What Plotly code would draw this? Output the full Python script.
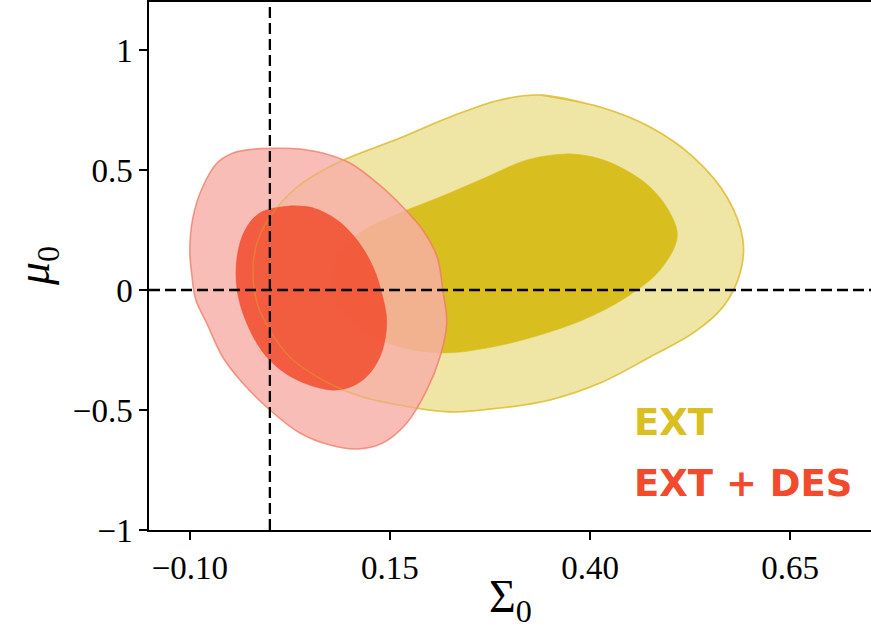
import plotly.graph_objects as go

# ---- data ----
# EXT: outer (95%) and inner (68%) contours in (Sigma0, mu0)
ext_outer_sigma = [0.3375, 0.4125, 0.475, 0.529, 0.571, 0.591, 0.5875, 0.566, 0.529, 0.475, 0.4125,
                   0.35, 0.2875, 0.225, 0.175, 0.116, 0.066, 0.025, 0.0, -0.016, -0.021, -0.016,
                   0.0, 0.034, 0.084, 0.1625, 0.225, 0.2875]
ext_outer_mu = [0.8125, 0.7625, 0.679, 0.554, 0.3875, 0.208, 0.071, -0.071, -0.179, -0.279, -0.3875,
                -0.458, -0.492, -0.508, -0.4875, -0.446, -0.375, -0.279, -0.167, -0.054, 0.083, 0.196,
                0.304, 0.429, 0.529, 0.633, 0.721, 0.792]

ext_inner_sigma = [0.371, 0.404, 0.4375, 0.475, 0.5, 0.509, 0.4875, 0.446, 0.391, 0.329, 0.271,
                   0.216, 0.1625, 0.121, 0.091, 0.079, 0.084, 0.1125, 0.1625, 0.2125, 0.271, 0.321]
ext_inner_mu = [0.567, 0.554, 0.5125, 0.429, 0.321, 0.221, 0.083, -0.029, -0.125, -0.196, -0.242,
                -0.2625, -0.2375, -0.179, -0.083, 0.0125, 0.125, 0.2375, 0.321, 0.3875, 0.471, 0.542]

# EXT + DES
des_outer_sigma = [0.0375, 0.066, 0.100, 0.134, 0.166, 0.191, 0.209, 0.216, 0.221, 0.2125, 0.196,
                   0.171, 0.141, 0.109, 0.075, 0.0375, 0.0, -0.034, -0.059, -0.079, -0.0925, -0.0975,
                   -0.100, -0.096, -0.084, -0.066, -0.046, -0.025, 0.0]
des_outer_mu = [0.5875, 0.571, 0.529, 0.446, 0.346, 0.25, 0.1375, 0.0, -0.1375, -0.279, -0.417,
                -0.554, -0.6375, -0.6625, -0.646, -0.596, -0.5, -0.3875, -0.279, -0.1375, -0.042, 0.0625,
                0.167, 0.304, 0.429, 0.529, 0.571, 0.585, 0.590]

des_inner_sigma = [0.025, 0.054, 0.084, 0.109, 0.129, 0.141, 0.146, 0.1375, 0.116, 0.084, 0.034,
                   -0.004, -0.029, -0.041, -0.041, -0.031, -0.0125]
des_inner_mu = [0.35, 0.342, 0.292, 0.208, 0.096, -0.029, -0.1375, -0.279, -0.375, -0.417, -0.375,
                -0.279, -0.1375, 0.0, 0.1375, 0.25, 0.321]

# reference (GR) values
ref_sigma0 = 0.0
ref_mu0 = 0.0

x_tickvals = [-0.10, 0.15, 0.40, 0.65]
x_ticktext = ["\u22120.10", "0.15", "0.40", "0.65"]
y_tickvals = [-1, -0.5, 0, 0.5, 1]
y_ticktext = ["\u22121", "\u22120.5", "0", "0.5", "1"]

labels = ["EXT", "EXT + DES"]
label_colors = ["#D9BF1F", "#F24A2C"]
label_y = [-0.55, -0.805]

x_title = "\u03a3<sub>0</sub>"
y_title = "<i>\u03bc</i><sub>0</sub>"


def closed(xs, ys):
    return list(xs) + [xs[0], xs[1]], list(ys) + [ys[0], ys[1]]


fig = go.Figure()

# EXT outer
x, y = closed(ext_outer_sigma, ext_outer_mu)
fig.add_trace(go.Scatter(x=x, y=y, mode="lines", fill="toself", line_shape="spline",
                         fillcolor="rgba(216,190,30,0.40)",
                         line=dict(color="rgba(222,192,50,0.75)", width=1.6, smoothing=1.0)))
# EXT inner
x, y = closed(ext_inner_sigma, ext_inner_mu)
fig.add_trace(go.Scatter(x=x, y=y, mode="lines", fill="toself", line_shape="spline",
                         fillcolor="rgb(216,191,31)",
                         line=dict(color="rgb(216,191,31)", width=0.5, smoothing=1.0)))
# EXT+DES outer
x, y = closed(des_outer_sigma, des_outer_mu)
fig.add_trace(go.Scatter(x=x, y=y, mode="lines", fill="toself", line_shape="spline",
                         fillcolor="rgba(248,174,168,0.82)",
                         line=dict(color="rgba(240,120,100,0.75)", width=1.6, smoothing=1.0)))
# EXT+DES inner
x, y = closed(des_inner_sigma, des_inner_mu)
fig.add_trace(go.Scatter(x=x, y=y, mode="lines", fill="toself", line_shape="spline",
                         fillcolor="rgba(241,78,48,0.88)",
                         line=dict(color="rgba(241,78,48,0.88)", width=0.5, smoothing=1.0)))
# faint EXT outer edge visible through the red contours
x, y = closed(ext_outer_sigma, ext_outer_mu)
fig.add_trace(go.Scatter(x=x, y=y, mode="lines", line_shape="spline",
                         line=dict(color="rgba(222,180,40,0.35)", width=1.6, smoothing=1.0)))

# reference lines
fig.add_vline(x=ref_sigma0, line=dict(color="black", width=2.3, dash="11px,5px"))
fig.add_hline(y=ref_mu0, line=dict(color="black", width=2.3, dash="11px,5px"))

for txt, col, yy in zip(labels, label_colors, label_y):
    fig.add_annotation(x=0.4525, y=yy, xref="x", yref="y", text="<b>" + txt + "</b>",
                       showarrow=False, xanchor="left", yanchor="middle",
                       font=dict(family="DejaVu Sans", size=37, color=col))

serif = "Liberation Serif, DejaVu Serif, serif"

# axis titles
fig.add_annotation(x=0.5, y=-0.133, xref="paper", yref="paper", text=x_title,
                   showarrow=False, xanchor="center", yanchor="middle",
                   font=dict(family=serif, size=46, color="black"))
fig.add_annotation(x=-0.155, y=0.5, xref="paper", yref="paper", text=y_title,
                   showarrow=False, xanchor="center", yanchor="middle", textangle=-90,
                   font=dict(family=serif, size=46, color="black"))

fig.update_layout(
    width=871, height=635,
    margin=dict(l=149, r=0, t=2, b=105),
    paper_bgcolor="white", plot_bgcolor="white",
    showlegend=False,
    font=dict(family=serif, size=33, color="black"),
    xaxis=dict(range=[-0.151, 0.751], tickvals=x_tickvals, ticktext=x_ticktext,
               ticks="outside", ticklen=8, tickwidth=1.5, tickcolor="black",
               showline=True, linecolor="black", linewidth=1.5, mirror=True,
               showgrid=False, zeroline=False,
               tickfont=dict(family=serif, size=33)),
    yaxis=dict(range=[-1.0, 1.2], tickvals=y_tickvals, ticktext=y_ticktext,
               ticks="outside", ticklen=8, tickwidth=1.5, tickcolor="black",
               showline=True, linecolor="black", linewidth=1.5, mirror=False,
               showgrid=False, zeroline=False,
               tickfont=dict(family=serif, size=33)),
)

fig.write_html("out.html")
